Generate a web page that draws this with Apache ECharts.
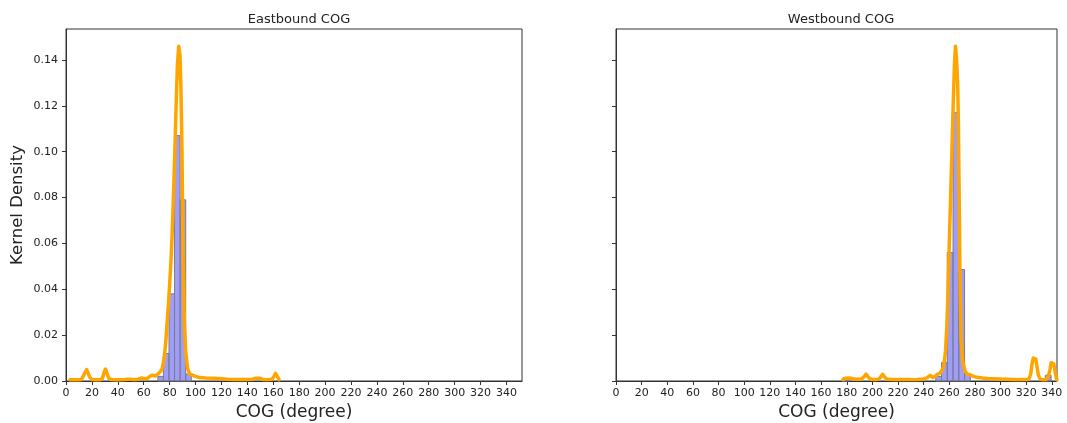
<!DOCTYPE html>
<html>
<head>
<meta charset="utf-8">
<script src="https://cdn.jsdelivr.net/npm/echarts@6/dist/echarts.min.js"></script>
<style>
html,body{margin:0;padding:0;background:#fff;}
#chart{width:1067px;height:423px;}
</style>
</head>
<body>
<div id="chart"></div>
<script>
// ---- tick labels ----
const xTicks = [0,20,40,60,80,100,120,140,160,180,200,220,240,260,280,300,320,340];
const yTicks = [0,0.02,0.04,0.06,0.08,0.10,0.12,0.14];

// ---- Eastbound histogram (bin left edge, bin right edge, density) ----
const eastBinLeft  = [70.9, 75.2, 79.5, 83.8, 88.1, 92.4];
const eastBinRight = [75.2, 79.5, 83.8, 88.1, 92.4, 96.7];
const eastBinDens  = [0.002, 0.012, 0.038, 0.107, 0.079, 0.003];

// ---- Eastbound KDE ----
const eastKdeX = [3,6,9,12,13.5,15,16,17,18.5,20,23,26,28,29.5,30.5,31.5,33,35,40,45,47.5,49,50.5,53,56,58,59.5,61,63,65,67,69,71,72.5,74,75,76,77,78,79,80,81,82,83,84,85,86,87,88,88.7,89.5,90.3,91.3,92.5,93.9,95.5,97,100,103,108,115,120,125,130,135,140,144,146.5,148,149.5,152,156,159,160.5,161.8,163,164.5];
const eastKdeY = [0.0005,0.0005,0.0005,0.0007,0.0015,0.0040,0.0050,0.0045,0.0015,0.0006,0.0005,0.0005,0.0010,0.0040,0.0052,0.0045,0.0012,0.0006,0.0005,0.0006,0.0008,0.0012,0.0008,0.0006,0.0008,0.0013,0.0016,0.0010,0.0012,0.0022,0.0025,0.0022,0.0030,0.0035,0.0050,0.0075,0.0110,0.0170,0.0250,0.0330,0.0420,0.0520,0.0650,0.0820,0.1000,0.1200,0.1380,0.1460,0.1420,0.1280,0.1020,0.0600,0.0260,0.0120,0.0055,0.0030,0.0026,0.0020,0.0015,0.0013,0.0012,0.0010,0.0008,0.0007,0.0007,0.0007,0.0008,0.0012,0.0017,0.0012,0.0007,0.0006,0.0008,0.0020,0.0033,0.0025,0.0006];

// ---- Westbound histogram ----
const westBinLeft  = [177.4, 249.4, 253.9, 258.4, 262.9, 267.4, 271.9, 334.9];
const westBinRight = [181.9, 253.9, 258.4, 262.9, 267.4, 271.9, 276.4, 339.4];
const westBinDens  = [0.0015, 0.002, 0.008, 0.056, 0.117, 0.0486, 0.003, 0.0025];

// ---- Westbound KDE ----
const westKdeX = [177,179,182,185,188,191,193,195,197,199,202,205,206.5,208,209.5,211,213,216,220,225,230,235,240,243,245,247,249,251,252,253,254,255,256,257,258,259,260,261,262,263,264,264.8,265.6,266.6,267.1,267.6,268.4,269.2,270.5,272.3,274,276,278,280,283,286,290,295,300,305,310,315,320,322,323.5,324.5,325.5,326.5,327.5,328.5,329.5,331,333,335,337,338.5,339.5,340.5,341.5,342.5,343.5,344];
const westKdeY = [0.0006,0.0012,0.0013,0.0010,0.0008,0.0008,0.0015,0.0030,0.0015,0.0008,0.0007,0.0008,0.0018,0.0029,0.0018,0.0009,0.0008,0.0007,0.0006,0.0006,0.0006,0.0007,0.0009,0.0015,0.0025,0.0015,0.0020,0.0030,0.0032,0.0035,0.0042,0.0055,0.0080,0.0130,0.0230,0.0390,0.0600,0.0800,0.1000,0.1200,0.1380,0.1460,0.1410,0.1280,0.1120,0.0850,0.0420,0.0180,0.0085,0.0042,0.0030,0.0028,0.0022,0.0018,0.0015,0.0013,0.0011,0.0010,0.0009,0.0008,0.0007,0.0006,0.0006,0.0008,0.0030,0.0075,0.0100,0.0106,0.0095,0.0060,0.0025,0.0008,0.0005,0.0006,0.0015,0.0050,0.0080,0.0088,0.0075,0.0040,0.0012,0.0005];

const titles = ['Eastbound COG', 'Westbound COG'];
const xName = 'COG (degree)';
const yName = 'Kernel Density';

const FONT = 'DejaVu Sans';
const TXT = '#222';
const ORANGE = '#FFA500';

function zip(a, b) { return a.map((v, i) => [v, b[i]]); }
function bins(l, r, d) { return l.map((v, i) => [v, r[i], d[i]]); }

function histSeries(idx, data) {
  return {
    type: 'custom',
    xAxisIndex: idx, yAxisIndex: idx,
    z: 2,
    renderItem: function (params, api) {
      const p0 = api.coord([api.value(0), api.value(2)]);
      const p1 = api.coord([api.value(1), 0]);
      return {
        type: 'rect',
        shape: { x: p0[0], y: p0[1], width: p1[0] - p0[0], height: p1[1] - p0[1] },
        style: { fill: 'rgba(120,120,245,0.72)', stroke: '#7a7a88', lineWidth: 1 }
      };
    },
    encode: { x: [0, 1], y: 2 },
    data: data,
    silent: true
  };
}

function kdeSeries(idx, data) {
  return {
    type: 'line',
    xAxisIndex: idx, yAxisIndex: idx,
    z: 3,
    showSymbol: false,
    symbol: 'none',
    lineStyle: { color: ORANGE, width: 3.5, join: 'round', cap: 'round' },
    data: data,
    silent: true,
    animation: false
  };
}

function xAxis(idx, max) {
  return {
    type: 'value', gridIndex: idx, min: 0, max: max,
    name: xName, nameLocation: 'middle', nameGap: 21,
    nameTextStyle: { fontFamily: FONT, fontSize: 17, color: TXT },
    splitLine: { show: false },
    axisLine: { show: true, onZero: false, lineStyle: { color: '#333', width: 1 } },
    axisTick: { show: true, inside: false, length: 4, customValues: xTicks, lineStyle: { color: '#333' } },
    axisLabel: { show: true, margin: 7, customValues: xTicks, fontFamily: FONT, fontSize: 11, color: TXT,
                 formatter: v => String(Math.round(v)) }
  };
}

function yAxis(idx, showLabels) {
  return {
    type: 'value', gridIndex: idx, min: 0, max: 0.1535,
    name: showLabels ? yName : '', nameLocation: 'middle', nameGap: 40, nameRotate: 90,
    nameTextStyle: { fontFamily: FONT, fontSize: 16.5, color: TXT },
    splitLine: { show: false },
    axisLine: { show: true, lineStyle: { color: '#333', width: 1 } },
    axisTick: { show: true, inside: false, length: 4, customValues: yTicks, lineStyle: { color: '#333' } },
    axisLabel: { show: showLabels, margin: 8, customValues: yTicks, fontFamily: FONT, fontSize: 11, color: TXT,
                 formatter: v => v.toFixed(2) }
  };
}

const chart = echarts.init(document.getElementById('chart'), null, { renderer: 'canvas' });
chart.setOption({
  animation: false,
  backgroundColor: '#fff',
  title: [
    { text: titles[0], left: 294, top: 8, textAlign: 'center',
      textStyle: { fontFamily: FONT, fontSize: 13, fontWeight: 'normal', color: TXT } },
    { text: titles[1], left: 836, top: 8, textAlign: 'center',
      textStyle: { fontFamily: FONT, fontSize: 13, fontWeight: 'normal', color: TXT } }
  ],
  grid: [
    { left: 66, top: 29, width: 456, height: 352, outerBoundsMode: 'none', containLabel: false,
      show: true, borderColor: '#333', borderWidth: 1, backgroundColor: 'transparent' },
    { left: 616, top: 29, width: 441, height: 352, outerBoundsMode: 'none', containLabel: false,
      show: true, borderColor: '#333', borderWidth: 1, backgroundColor: 'transparent' }
  ],
  xAxis: [xAxis(0, 352), xAxis(1, 344)],
  yAxis: [yAxis(0, true), yAxis(1, false)],
  series: [
    histSeries(0, bins(eastBinLeft, eastBinRight, eastBinDens)),
    kdeSeries(0, zip(eastKdeX, eastKdeY)),
    histSeries(1, bins(westBinLeft, westBinRight, westBinDens)),
    kdeSeries(1, zip(westKdeX, westKdeY))
  ]
});
</script>
</body>
</html>
